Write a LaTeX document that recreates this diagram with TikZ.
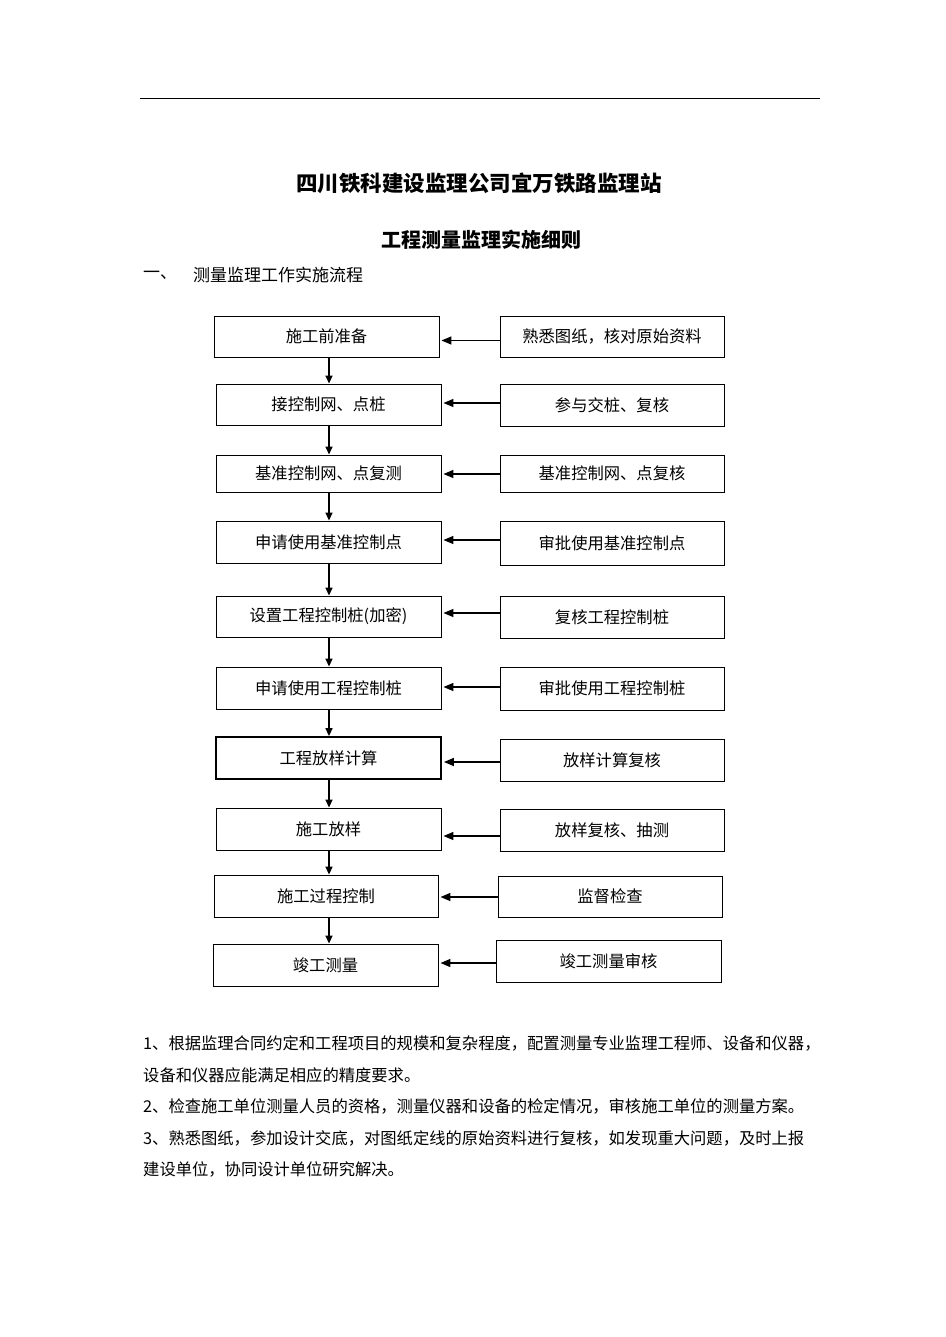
\documentclass[tikz,border=0pt]{standalone}
\usepackage{fontspec}
\setmainfont{Noto Sans CJK SC}
\usetikzlibrary{arrows.meta,calc}
\begin{document}
\begin{tikzpicture}[x=1pt,y=-1pt,
  box/.style={draw=black,line width=0.9pt,inner sep=0pt,font=\fontsize{16.3}{18}\selectfont},
  harr/.style={line width=1.5pt,-{Triangle[length=10pt,width=8pt]},shorten >=2pt},
  varr/.style={line width=1.5pt,-{Triangle[length=8pt,width=7pt]}},
  body/.style={anchor=west,inner sep=0pt,font=\fontsize{16.3}{18}\selectfont}]
\useasboundingbox (0,0) rectangle (945,1337);
\coordinate (ruleL) at (140,98);
\coordinate (ruleR) at (820,98);
\draw[line width=0.9pt] (ruleL) -- (ruleR);
\node[inner sep=0pt,font=\fontsize{21.5}{23}\selectfont\bfseries] (title) at (479,183) {四川铁科建设监理公司宜万铁路监理站};
\node[inner sep=0pt,font=\fontsize{20}{22}\selectfont\bfseries] (subtitle) at (481,240) {工程测量监理实施细则};
\node[body,font=\fontsize{17}{18}\selectfont] (sec) at (143,275) {一、};
\node[body,font=\fontsize{17}{18}\selectfont] (sectitle) at (193,275) {测量监理工作实施流程};
% left column
\node[box,minimum width=225pt,minimum height=41pt] (l1) at (326.5,336.5) {施工前准备};
\node[box,minimum width=225pt,minimum height=41pt] (l2) at (328.5,404.5) {接控制网、点桩};
\node[box,minimum width=225pt,minimum height=37pt] (l3) at (328.5,473.5) {基准控制网、点复测};
\node[box,minimum width=225pt,minimum height=42pt] (l4) at (328.5,542) {申请使用基准控制点};
\node[box,minimum width=225pt,minimum height=41pt] (l5) at (328.5,616.5) {设置工程控制桩(加密)};
\node[box,minimum width=225pt,minimum height=42pt] (l6) at (328.5,688) {申请使用工程控制桩};
\node[box,line width=1.8pt,minimum width=225pt,minimum height=42pt] (l7) at (328.5,758) {工程放样计算};
\node[box,minimum width=225pt,minimum height=42pt] (l8) at (328.5,829) {施工放样};
\node[box,minimum width=224pt,minimum height=42pt] (l9) at (326,896) {施工过程控制};
\node[box,minimum width=225pt,minimum height=42pt] (l10) at (325.5,965) {竣工测量};
% right column
\node[box,minimum width=224pt,minimum height=41pt] (r1) at (612,336.5) {熟悉图纸，核对原始资料};
\node[box,minimum width=224pt,minimum height=42pt] (r2) at (612,405) {参与交桩、复核};
\node[box,minimum width=224pt,minimum height=37pt] (r3) at (612,473.5) {基准控制网、点复核};
\node[box,minimum width=224pt,minimum height=44pt] (r4) at (612,543) {审批使用基准控制点};
\node[box,minimum width=224pt,minimum height=42pt] (r5) at (612,617) {复核工程控制桩};
\node[box,minimum width=224pt,minimum height=43pt] (r6) at (612,688.5) {审批使用工程控制桩};
\node[box,minimum width=224pt,minimum height=42pt] (r7) at (612,760) {放样计算复核};
\node[box,minimum width=224pt,minimum height=42pt] (r8) at (612,830) {放样复核、抽测};
\node[box,minimum width=224pt,minimum height=41pt] (r9) at (610,896.5) {监督检查};
\node[box,minimum width=225pt,minimum height=42pt] (r10) at (608.5,961) {竣工测量审核};
% vertical arrows
\coordinate (vx) at (329,0);
\foreach \i/\j in {1/2,2/3,3/4,4/5,5/6,6/7,7/8,8/9,9/10}
  \draw[varr] (l\i.south -| vx) -- (vx |- l\j.north);
% horizontal arrows
\foreach \i/\d in {1/4,2/-2,3/0.5,4/-3,5/-4,6/-1.5,7/2,8/6,9/0.5,10/2}
  \draw[harr] ($(r\i.west)+(0,\d)$) -- ($(r\i.west -| l\i.east)+(0,\d)$);
% body text
\node[body] (p1) at (143,1043) {1、根据监理合同约定和工程项目的规模和复杂程度，配置测量专业监理工程师、设备和仪器，};
\node[body] (p2) at (143,1075) {设备和仪器应能满足相应的精度要求。};
\node[body] (p3) at (143,1106) {2、检查施工单位测量人员的资格，测量仪器和设备的检定情况，审核施工单位的测量方案。};
\node[body] (p4) at (143,1138) {3、熟悉图纸，参加设计交底，对图纸定线的原始资料进行复核，如发现重大问题，及时上报};
\node[body] (p5) at (143,1169) {建设单位，协同设计单位研究解决。};
\end{tikzpicture}
\end{document}
